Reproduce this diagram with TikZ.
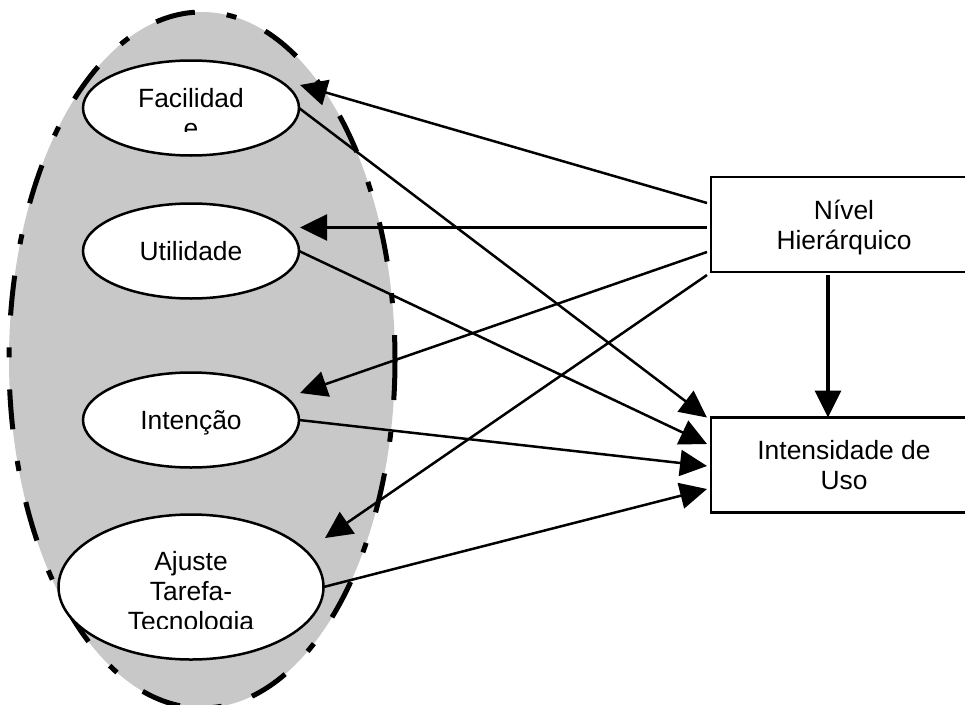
\documentclass[tikz,border=0pt]{standalone}
\usepackage{fontspec}
\setmainfont{Liberation Sans}
\usetikzlibrary{arrows.meta, shapes.geometric}
\definecolor{regiongray}{RGB}{200,200,200}

\begin{document}
\begin{tikzpicture}[
  x = 1pt, y = -1pt,
  font = \fontsize{26.4}{30}\selectfont,
  construct/.style = {
    shape = ellipse,
    draw = black,
    fill = white,
    line width = 2.5pt,
    inner sep = 0pt,
    outer sep = 0pt,
    minimum width = 216pt,
    minimum height = 95pt,
    text height = 19pt,
    text depth = 0pt,
  },
  factor/.style = {
    shape = rectangle,
    draw = black,
    line width = 2.8pt,
    minimum width = 266pt,
    minimum height = 95pt,
    inner sep = 0pt,
    outer sep = 0pt,
    align = center,
    text depth = 0pt,
  },
  cliptext/.style = {
    align = center,
    inner sep = 0pt,
    anchor = north,
  }
]
  \useasboundingbox (0, 0) rectangle (965, 704);
  \clip (0, 0) rectangle (965, 704);

  \draw[fill = regiongray, line width = 5pt,
    dash pattern = on 40pt off 32pt on 10pt off 32pt]
    (202, 360) ellipse [x radius = 193, y radius = 348];

  \node[construct] (fac) at (191, 108) {};
  \node[construct] (uti) at (191, 251) {Utilidade};
  \node[construct] (int) at (191, 420) {Intenção};
  \node[construct, minimum width = 265pt, minimum height = 145pt] (aju) at (191, 587) {};

  \begin{scope}
    \clip (80, 60) rectangle (300, 131);
    \node[cliptext] (fac-text) at (191, 88) {Facilidad\\e};
  \end{scope}
  \begin{scope}
    \clip (60, 520) rectangle (320, 628);
    \node[cliptext] (aju-text) at (191, 551) {Ajuste\\Tarefa-\\Tecnologia};
  \end{scope}

  \node[factor] (niv) at (844, 224.5) {Nível\\Hierárquico};
  \node[factor] (ins) at (844, 465) {Intensidade de\\Uso};

  \coordinate (fac-in) at (300, 85);
  \coordinate (uti-in) at (300, 227.5);
  \coordinate (int-in) at (300, 393);
  \coordinate (aju-in) at (325, 538);

  \begin{scope}[
    every path/.style = {-{Triangle[length = 27pt, width = 26pt]}, line width = 2.5pt}
  ]
    \draw ([shift = {(-4pt, 21.5pt)}]niv.west) -- (fac-in);
    \draw ([shift = {(-4pt, -3pt)}]niv.west) -- (uti-in);
    \draw ([shift = {(-4pt, -27.5pt)}]niv.west) -- (int-in);
    \draw ([shift = {(-4pt, -50.5pt)}]niv.west) -- (aju-in);

    \draw (fac.east) -- ([xshift = -4pt]ins.north west);
    \draw (uti.east) -- ([shift = {(-4pt, 21pt)}]ins.west);
    \draw (int.east) -- ([shift = {(-4pt, -1pt)}]ins.west);
    \draw (aju.east) -- ([shift = {(-4pt, -24pt)}]ins.west);

    \draw[line width = 3.2pt] ([shift = {(-16pt, -3pt)}]niv.south) -- ([xshift = -16pt]ins.north);
  \end{scope}
\end{tikzpicture}
\end{document}
